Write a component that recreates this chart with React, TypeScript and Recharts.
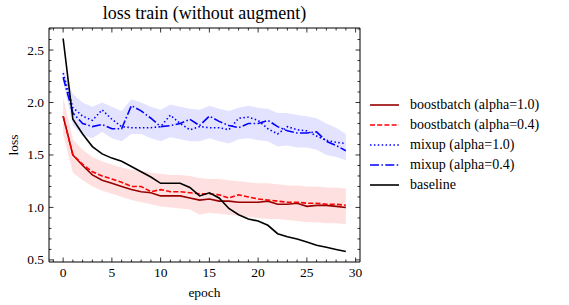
import { Area, ComposedChart, Label, Legend, Line, ReferenceArea, XAxis, YAxis } from "recharts";

const epochs = [0, 1, 2, 3, 4, 5, 6, 7, 8, 9, 10, 11, 12, 13, 14, 15, 16, 17, 18, 19, 20, 21, 22, 23, 24, 25, 26, 27, 28, 29];

const boost10 = [1.87, 1.5, 1.4, 1.31, 1.26, 1.23, 1.2, 1.17, 1.15, 1.14, 1.11, 1.11, 1.11, 1.09, 1.07, 1.08, 1.06, 1.06, 1.05, 1.05, 1.05, 1.06, 1.03, 1.03, 1.04, 1.01, 1.02, 1.02, 1.01, 1.0];
const boost04 = [1.87, 1.5, 1.41, 1.34, 1.3, 1.27, 1.24, 1.2, 1.2, 1.15, 1.17, 1.15, 1.15, 1.14, 1.13, 1.13, 1.12, 1.09, 1.12, 1.1, 1.08, 1.07, 1.06, 1.05, 1.05, 1.04, 1.04, 1.03, 1.03, 1.02];
const boostHi = [2.05, 1.65, 1.55, 1.48, 1.44, 1.41, 1.38, 1.36, 1.35, 1.33, 1.32, 1.31, 1.31, 1.3, 1.28, 1.27, 1.27, 1.26, 1.25, 1.24, 1.23, 1.23, 1.22, 1.21, 1.21, 1.2, 1.2, 1.19, 1.19, 1.18];
const boostLo = [1.7, 1.33, 1.26, 1.2, 1.16, 1.13, 1.1, 1.07, 1.05, 1.03, 1.01, 1.0, 0.99, 0.98, 0.93, 0.95, 0.94, 0.93, 0.92, 0.91, 0.9, 0.89, 0.89, 0.88, 0.87, 0.86, 0.86, 0.85, 0.85, 0.84];

const mixup10 = [2.28, 1.95, 1.87, 1.83, 1.93, 1.84, 1.77, 1.76, 1.76, 1.76, 1.77, 1.88, 1.8, 1.74, 1.77, 1.76, 1.76, 1.74, 1.85, 1.86, 1.83, 1.75, 1.7, 1.77, 1.74, 1.73, 1.68, 1.64, 1.62, 1.61];
const mixup04 = [2.24, 1.9, 1.8, 1.77, 1.79, 1.75, 1.75, 1.97, 1.92, 1.85, 1.77, 1.78, 1.8, 1.84, 1.78, 1.87, 1.82, 1.78, 1.76, 1.8, 1.8, 1.83, 1.77, 1.73, 1.71, 1.71, 1.72, 1.63, 1.59, 1.54];
const mixupHi = [2.32, 2.08, 2.0, 1.96, 2.0, 1.96, 1.92, 2.03, 2.0, 1.96, 1.93, 1.98, 1.96, 1.94, 1.93, 1.97, 1.94, 1.92, 1.95, 1.97, 1.95, 1.94, 1.9, 1.9, 1.88, 1.87, 1.85, 1.8, 1.76, 1.7];
const mixupLo = [2.2, 1.78, 1.69, 1.66, 1.72, 1.66, 1.63, 1.7, 1.7, 1.66, 1.63, 1.67, 1.65, 1.63, 1.63, 1.66, 1.63, 1.61, 1.65, 1.66, 1.64, 1.63, 1.58, 1.59, 1.57, 1.57, 1.55, 1.5, 1.48, 1.45];

const baseline = [2.61, 1.84, 1.7, 1.58, 1.51, 1.47, 1.44, 1.39, 1.34, 1.29, 1.23, 1.23, 1.23, 1.19, 1.11, 1.14, 1.09, 0.99, 0.93, 0.89, 0.87, 0.83, 0.75, 0.72, 0.7, 0.67, 0.64, 0.62, 0.6, 0.58];

const xDomain = [-1.45, 30.45];
const yDomain = [0.48, 2.71];
const xTicks = [-1, 0, 1, 2, 3, 4, 5, 6, 7, 8, 9, 10, 11, 12, 13, 14, 15, 16, 17, 18, 19, 20, 21, 22, 23, 24, 25, 26, 27, 28, 29, 30];
const xLabels = [0, 5, 10, 15, 20, 25, 30];
const yTicks = [0.5, 0.6, 0.7, 0.8, 0.9, 1.0, 1.1, 1.2, 1.3, 1.4, 1.5, 1.6, 1.7, 1.8, 1.9, 2.0, 2.1, 2.2, 2.3, 2.4, 2.5, 2.6, 2.7];
const yLabels = [0.5, 1.0, 1.5, 2.0, 2.5];

const series = [
  { key: "boost10", name: "boostbatch (alpha=1.0)", color: "#960000", dash: undefined },
  { key: "boost04", name: "boostbatch (alpha=0.4)", color: "#ff0000", dash: "5 2.2" },
  { key: "mixup10", name: "mixup (alpha=1.0)", color: "#0000ff", dash: "1.5 2.4" },
  { key: "mixup04", name: "mixup (alpha=0.4)", color: "#0000ff", dash: "9 2.4 1.5 2.4" },
  { key: "baseline", name: "baseline", color: "#000000", dash: undefined },
];

const data = epochs.map((epoch, i) => ({
  epoch,
  boost10: boost10[i],
  boost04: boost04[i],
  boostBand: [boostLo[i], boostHi[i]],
  mixup10: mixup10[i],
  mixup04: mixup04[i],
  mixupBand: [mixupLo[i], mixupHi[i]],
  baseline: baseline[i],
}));

const FONT = "'Liberation Serif', 'Times New Roman', serif";
const TICK_FONT = 13.5;

const isMajorX = (v: number) => xLabels.includes(v);
const isMajorY = (v: number) => yLabels.some((l) => Math.abs(l - v) < 1e-6);

function BottomTick({ x, y, payload }: any) {
  const major = isMajorX(payload.value);
  return (
    <g>
      <line x1={x} x2={x} y1={y} y2={y - (major ? 4.5 : 2.5)} stroke="#000" strokeWidth={0.8} />
      {major && (
        <text x={x} y={y + 15} textAnchor="middle" fontFamily={FONT} fontSize={TICK_FONT} fill="#000">
          {payload.value}
        </text>
      )}
    </g>
  );
}

function TopTick({ x, y, payload }: any) {
  const major = isMajorX(payload.value);
  return <line x1={x} x2={x} y1={y} y2={y + (major ? 4.5 : 2.5)} stroke="#000" strokeWidth={0.8} />;
}

function LeftTick({ x, y, payload }: any) {
  const major = isMajorY(payload.value);
  return (
    <g>
      <line x1={x} x2={x + (major ? 4.5 : 2.5)} y1={y} y2={y} stroke="#000" strokeWidth={0.8} />
      {major && (
        <text x={x - 5} y={y + 4.5} textAnchor="end" fontFamily={FONT} fontSize={TICK_FONT} fill="#000">
          {payload.value.toFixed(1)}
        </text>
      )}
    </g>
  );
}

function RightTick({ x, y, payload }: any) {
  const major = isMajorY(payload.value);
  return <line x1={x} x2={x - (major ? 4.5 : 2.5)} y1={y} y2={y} stroke="#000" strokeWidth={0.8} />;
}

function LegendBox() {
  return (
    <div style={{ fontFamily: FONT, fontSize: 14, color: "#000" }}>
      {series.map((s) => (
        <div key={s.key} style={{ display: "flex", alignItems: "center", height: 20 }}>
          <svg width={30} height={6} style={{ marginRight: 10 }}>
            <line x1={0} x2={29} y1={3} y2={3} stroke={s.color} strokeWidth={1.6} strokeDasharray={s.dash} />
          </svg>
          <span style={{ whiteSpace: "nowrap" }}>{s.name}</span>
        </div>
      ))}
    </div>
  );
}

export default function App() {
  return (
    <div style={{ position: "absolute", left: 0, top: 0, width: 569, height: 305, background: "#fff" }}>
      <div
        style={{
          position: "absolute",
          left: 49,
          top: 3,
          width: 311,
          textAlign: "center",
          fontFamily: FONT,
          fontSize: 18,
          lineHeight: "20px",
          color: "#000",
        }}
      >
        loss train (without augment)
      </div>
      <ComposedChart width={569} height={305} data={data} margin={{ top: 27, right: 208, bottom: 0, left: 0 }}>
        <XAxis
          dataKey="epoch"
          type="number"
          domain={xDomain}
          ticks={xTicks}
          interval={0}
          allowDataOverflow
          height={43}
          tickLine={false}
          tickSize={0}
          tickMargin={0}
          axisLine={false}
          tick={(p: any) => <BottomTick {...p} />}
        >
          <Label
            content={({ viewBox }: any) => (
              <text
                x={viewBox.x + viewBox.width / 2}
                y={viewBox.y + 35}
                textAnchor="middle"
                fontFamily={FONT}
                fontSize={TICK_FONT}
                fill="#000"
              >
                epoch
              </text>
            )}
          />
        </XAxis>
        <XAxis
          xAxisId="top"
          dataKey="epoch"
          type="number"
          orientation="top"
          domain={xDomain}
          ticks={xTicks}
          interval={0}
          allowDataOverflow
          height={1}
          tickLine={false}
          tickSize={0}
          tickMargin={0}
          axisLine={false}
          tick={(p: any) => <TopTick {...p} />}
        />
        <YAxis
          type="number"
          domain={yDomain}
          ticks={yTicks}
          interval={0}
          allowDataOverflow
          width={49}
          tickLine={false}
          tickSize={0}
          tickMargin={0}
          axisLine={false}
          tick={(p: any) => <LeftTick {...p} />}
        >
          <Label
            content={({ viewBox }: any) => {
              const cx = viewBox.x + 13;
              const cy = viewBox.y + viewBox.height / 2;
              return (
                <text
                  x={cx}
                  y={cy}
                  transform={`rotate(-90 ${cx} ${cy})`}
                  textAnchor="middle"
                  dominantBaseline="central"
                  fontFamily={FONT}
                  fontSize={TICK_FONT}
                  fill="#000"
                >
                  loss
                </text>
              );
            }}
          />
        </YAxis>
        <YAxis
          yAxisId="right"
          orientation="right"
          type="number"
          domain={yDomain}
          ticks={yTicks}
          interval={0}
          allowDataOverflow
          width={1}
          tickLine={false}
          tickSize={0}
          tickMargin={0}
          axisLine={false}
          tick={(p: any) => <RightTick {...p} />}
        />
        <Area
          dataKey="boostBand"
          stroke="none"
          fill="#ff0000"
          fillOpacity={0.12}
          legendType="none"
          isAnimationActive={false}
        />
        <Area
          dataKey="mixupBand"
          stroke="none"
          fill="#0000ff"
          fillOpacity={0.11}
          legendType="none"
          isAnimationActive={false}
        />
        {series.map((s) => (
          <Line
            key={s.key}
            dataKey={s.key}
            name={s.name}
            stroke={s.color}
            strokeWidth={1.6}
            strokeDasharray={s.dash}
            dot={false}
            activeDot={false}
            isAnimationActive={false}
          />
        ))}
        <ReferenceArea
          x1={xDomain[0]}
          x2={xDomain[1]}
          y1={yDomain[0]}
          y2={yDomain[1]}
          fill="none"
          stroke="#000"
          strokeWidth={1}
          ifOverflow="visible"
        />
        <Legend
          layout="vertical"
          align="center"
          verticalAlign="middle"
          wrapperStyle={{ left: 370, top: 95, width: 199 }}
          content={() => <LegendBox />}
        />
      </ComposedChart>
    </div>
  );
}
